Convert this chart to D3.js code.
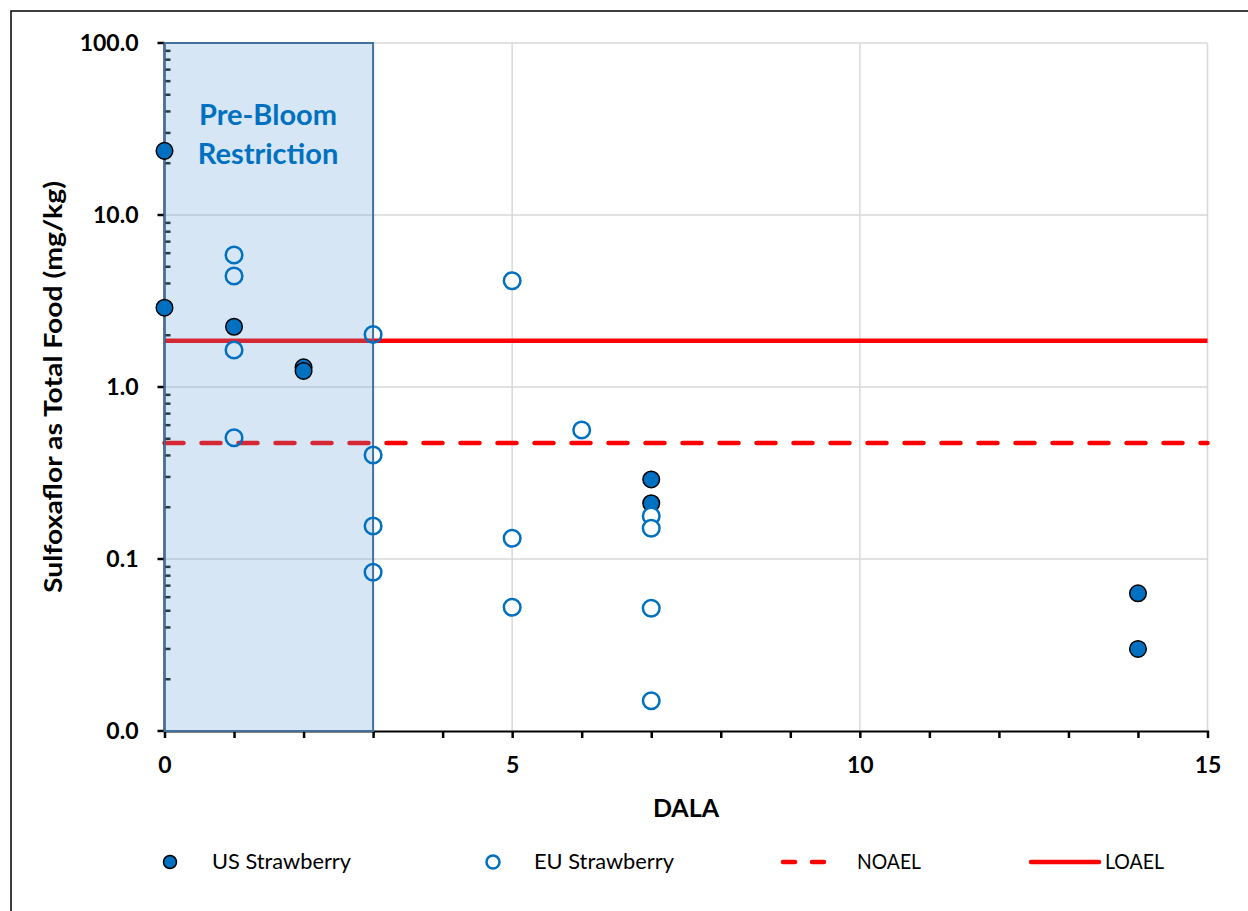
<!DOCTYPE html>
<html><head><meta charset="utf-8">
<script src="https://cdn.jsdelivr.net/npm/d3@7"></script>
<style>body{margin:0;background:#fff}svg{display:block}</style>
</head><body>
<svg id="c" width="1248" height="911"></svg>
<script>
const usX = [0, 0, 1, 2, 2, 7, 7, 14, 14];
const usY = [23.6, 2.89, 2.24, 1.30, 1.24, 0.29, 0.211, 0.0632, 0.030];
const euX = [1, 1, 1, 1, 3, 3, 3, 3, 5, 5, 5, 6, 7, 7, 7, 7];
const euY = [5.85, 4.42, 1.64, 0.507, 2.02, 0.402, 0.1555, 0.0837, 4.15, 0.132, 0.0524, 0.562, 0.178, 0.151, 0.0517, 0.015];
const noael = 0.472;
const loael = 1.86;
const restriction = [0, 3];
const xTicks = [0, 5, 10, 15];
const yTicks = [0.01, 0.1, 1, 10, 100];
const yTickLabels = ["0.0", "0.1", "1.0", "10.0", "100.0"];
const legendLabels = ["US Strawberry", "EU Strawberry", "NOAEL", "LOAEL"];

const FONT = "Lato, 'Open Sans', sans-serif";
const svg = d3.select("#c");
const L = 164.5, R = 1207.5, T = 43, B = 731;
const x = d3.scaleLinear().domain([0, 15]).range([L, R]);
const y = d3.scaleLog().domain([0.01, 100]).range([B, T]);

// outer border
svg.append("rect").attr("x", 11).attr("y", 11).attr("width", 1250).attr("height", 920)
  .attr("fill", "none").attr("stroke", "#000").attr("stroke-width", 1.5);

// gridlines
const g = svg.append("g");
g.selectAll(".gx").data(xTicks.slice(1)).join("line")
  .attr("x1", d => x(d)).attr("x2", d => x(d)).attr("y1", T).attr("y2", B)
  .attr("stroke", "#d9d9d9").attr("stroke-width", 1.5);
g.selectAll(".gy").data(yTicks.slice(1)).join("line")
  .attr("x1", L).attr("x2", R).attr("y1", d => y(d)).attr("y2", d => y(d))
  .attr("stroke", "#d9d9d9").attr("stroke-width", 1.5);

// reference lines
svg.append("line").attr("x1", x(0)).attr("x2", x(15)).attr("y1", y(loael)).attr("y2", y(loael))
  .attr("stroke", "#ff0000").attr("stroke-width", 4.5);
svg.append("line").attr("x1", x(0)).attr("x2", x(15)).attr("y1", y(noael)).attr("y2", y(noael))
  .attr("stroke", "#ff0000").attr("stroke-width", 4.5)
  .attr("stroke-dasharray", "19,18").attr("stroke-linecap", "round");

// axes
const xAxis = d3.axisBottom(x).tickValues(d3.range(0, 16)).tickSize(7).tickFormat(d => xTicks.includes(d) ? d : "");
const gx = svg.append("g").attr("transform", `translate(0,${B})`).call(xAxis);
gx.select(".domain").attr("stroke", "#000").attr("stroke-width", 2);
gx.selectAll(".tick line").attr("stroke", "#000").attr("stroke-width", 2.5);
gx.selectAll(".tick text").attr("font-family", FONT).attr("font-weight", "bold")
  .attr("font-size", 23).attr("fill", "#000").attr("y", 34).attr("dy", "0.35em");

const minor = [];
for (let e = -2; e < 2; e++) for (let k = 2; k <= 9; k++) minor.push(k * Math.pow(10, e));
const gy = svg.append("g").attr("transform", `translate(${L},0)`);
gy.append("line").attr("x1", 0).attr("x2", 0).attr("y1", T).attr("y2", B).attr("stroke", "#000").attr("stroke-width", 2);
gy.selectAll(".mj").data(yTicks).join("line").attr("x1", -7).attr("x2", 0)
  .attr("y1", d => y(d)).attr("y2", d => y(d)).attr("stroke", "#000").attr("stroke-width", 2.5);
gy.selectAll(".mn").data(minor).join("line").attr("x1", 0).attr("x2", 6)
  .attr("y1", d => y(d)).attr("y2", d => y(d)).attr("stroke", "#1a1a1a").attr("stroke-width", 2.5);
gy.selectAll(".lb").data(yTicks).join("text").attr("x", -26).attr("y", d => y(d)).attr("dy", "0.35em")
  .attr("text-anchor", "end").attr("font-family", FONT).attr("font-weight", "bold")
  .attr("font-size", 23).attr("fill", "#000").text((d, i) => yTickLabels[i]);

// restriction box (semi-transparent, on top of lines)
svg.append("rect").attr("x", x(restriction[0])).attr("y", T)
  .attr("width", x(restriction[1]) - x(restriction[0])).attr("height", B - T)
  .attr("fill", "#5b9bd5").attr("fill-opacity", 0.25)
  .attr("stroke", "#41719c").attr("stroke-width", 2);
const tt = svg.append("text").attr("text-anchor", "middle").attr("font-family", FONT)
  .attr("font-weight", "bold").attr("font-size", 29).attr("fill", "#0070c0");
tt.append("tspan").attr("x", 268).attr("y", 125).text("Pre-Bloom");
tt.append("tspan").attr("x", 268).attr("y", 164).text("Restriction");

// points
const euData = euX.map((d, i) => [d, euY[i]]);
const usData = usX.map((d, i) => [d, usY[i]]);
svg.selectAll(".us").data(usData).join("circle")
  .attr("cx", d => x(d[0])).attr("cy", d => y(d[1])).attr("r", 8.3)
  .attr("fill", "#0070c0").attr("stroke", "#000").attr("stroke-width", 1.5);
svg.selectAll(".eu").data(euData).join("circle")
  .attr("cx", d => x(d[0])).attr("cy", d => y(d[1])).attr("r", 8.3)
  .attr("fill", d => d[0] > 3 ? "#fff" : "none").attr("stroke", "#0070c0").attr("stroke-width", 2.5);

// axis titles
svg.append("text").attr("x", 686).attr("y", 817).attr("text-anchor", "middle")
  .attr("font-family", FONT).attr("font-weight", "bold").attr("font-size", 25).text("DALA");
svg.append("text").attr("transform", `translate(62,${(T + B) / 2}) rotate(-90)`).attr("text-anchor", "middle")
  .attr("font-family", FONT).attr("font-weight", "bold").attr("font-size", 24)
  .attr("textLength", 412).attr("lengthAdjust", "spacingAndGlyphs")
  .text("Sulfoxaflor as Total Food (mg/kg)");

// legend
const ly = 862;
const lg = svg.append("g").attr("font-family", FONT).attr("font-size", 21);
lg.append("circle").attr("cx", 170).attr("cy", ly).attr("r", 6.5).attr("fill", "#0070c0").attr("stroke", "#000").attr("stroke-width", 1.5);
lg.append("text").attr("x", 212).attr("y", ly).attr("dy", "0.35em").attr("textLength", 139).attr("lengthAdjust", "spacingAndGlyphs").text(legendLabels[0]);
lg.append("circle").attr("cx", 493).attr("cy", ly).attr("r", 6.5).attr("fill", "#fff").attr("stroke", "#0070c0").attr("stroke-width", 2.5);
lg.append("text").attr("x", 534).attr("y", ly).attr("dy", "0.35em").attr("textLength", 140).attr("lengthAdjust", "spacingAndGlyphs").text(legendLabels[1]);
lg.append("line").attr("x1", 783).attr("x2", 836).attr("y1", ly).attr("y2", ly).attr("stroke", "#ff0000")
  .attr("stroke-width", 4.5).attr("stroke-dasharray", "12,17").attr("stroke-linecap", "round");
lg.append("text").attr("x", 857).attr("y", ly).attr("dy", "0.35em").attr("textLength", 64).attr("lengthAdjust", "spacingAndGlyphs").text(legendLabels[2]);
lg.append("line").attr("x1", 1031).attr("x2", 1099).attr("y1", ly).attr("y2", ly).attr("stroke", "#ff0000")
  .attr("stroke-width", 4.5).attr("stroke-linecap", "round");
lg.append("text").attr("x", 1105).attr("y", ly).attr("dy", "0.35em").attr("textLength", 59).attr("lengthAdjust", "spacingAndGlyphs").text(legendLabels[3]);
</script>
</body></html>
